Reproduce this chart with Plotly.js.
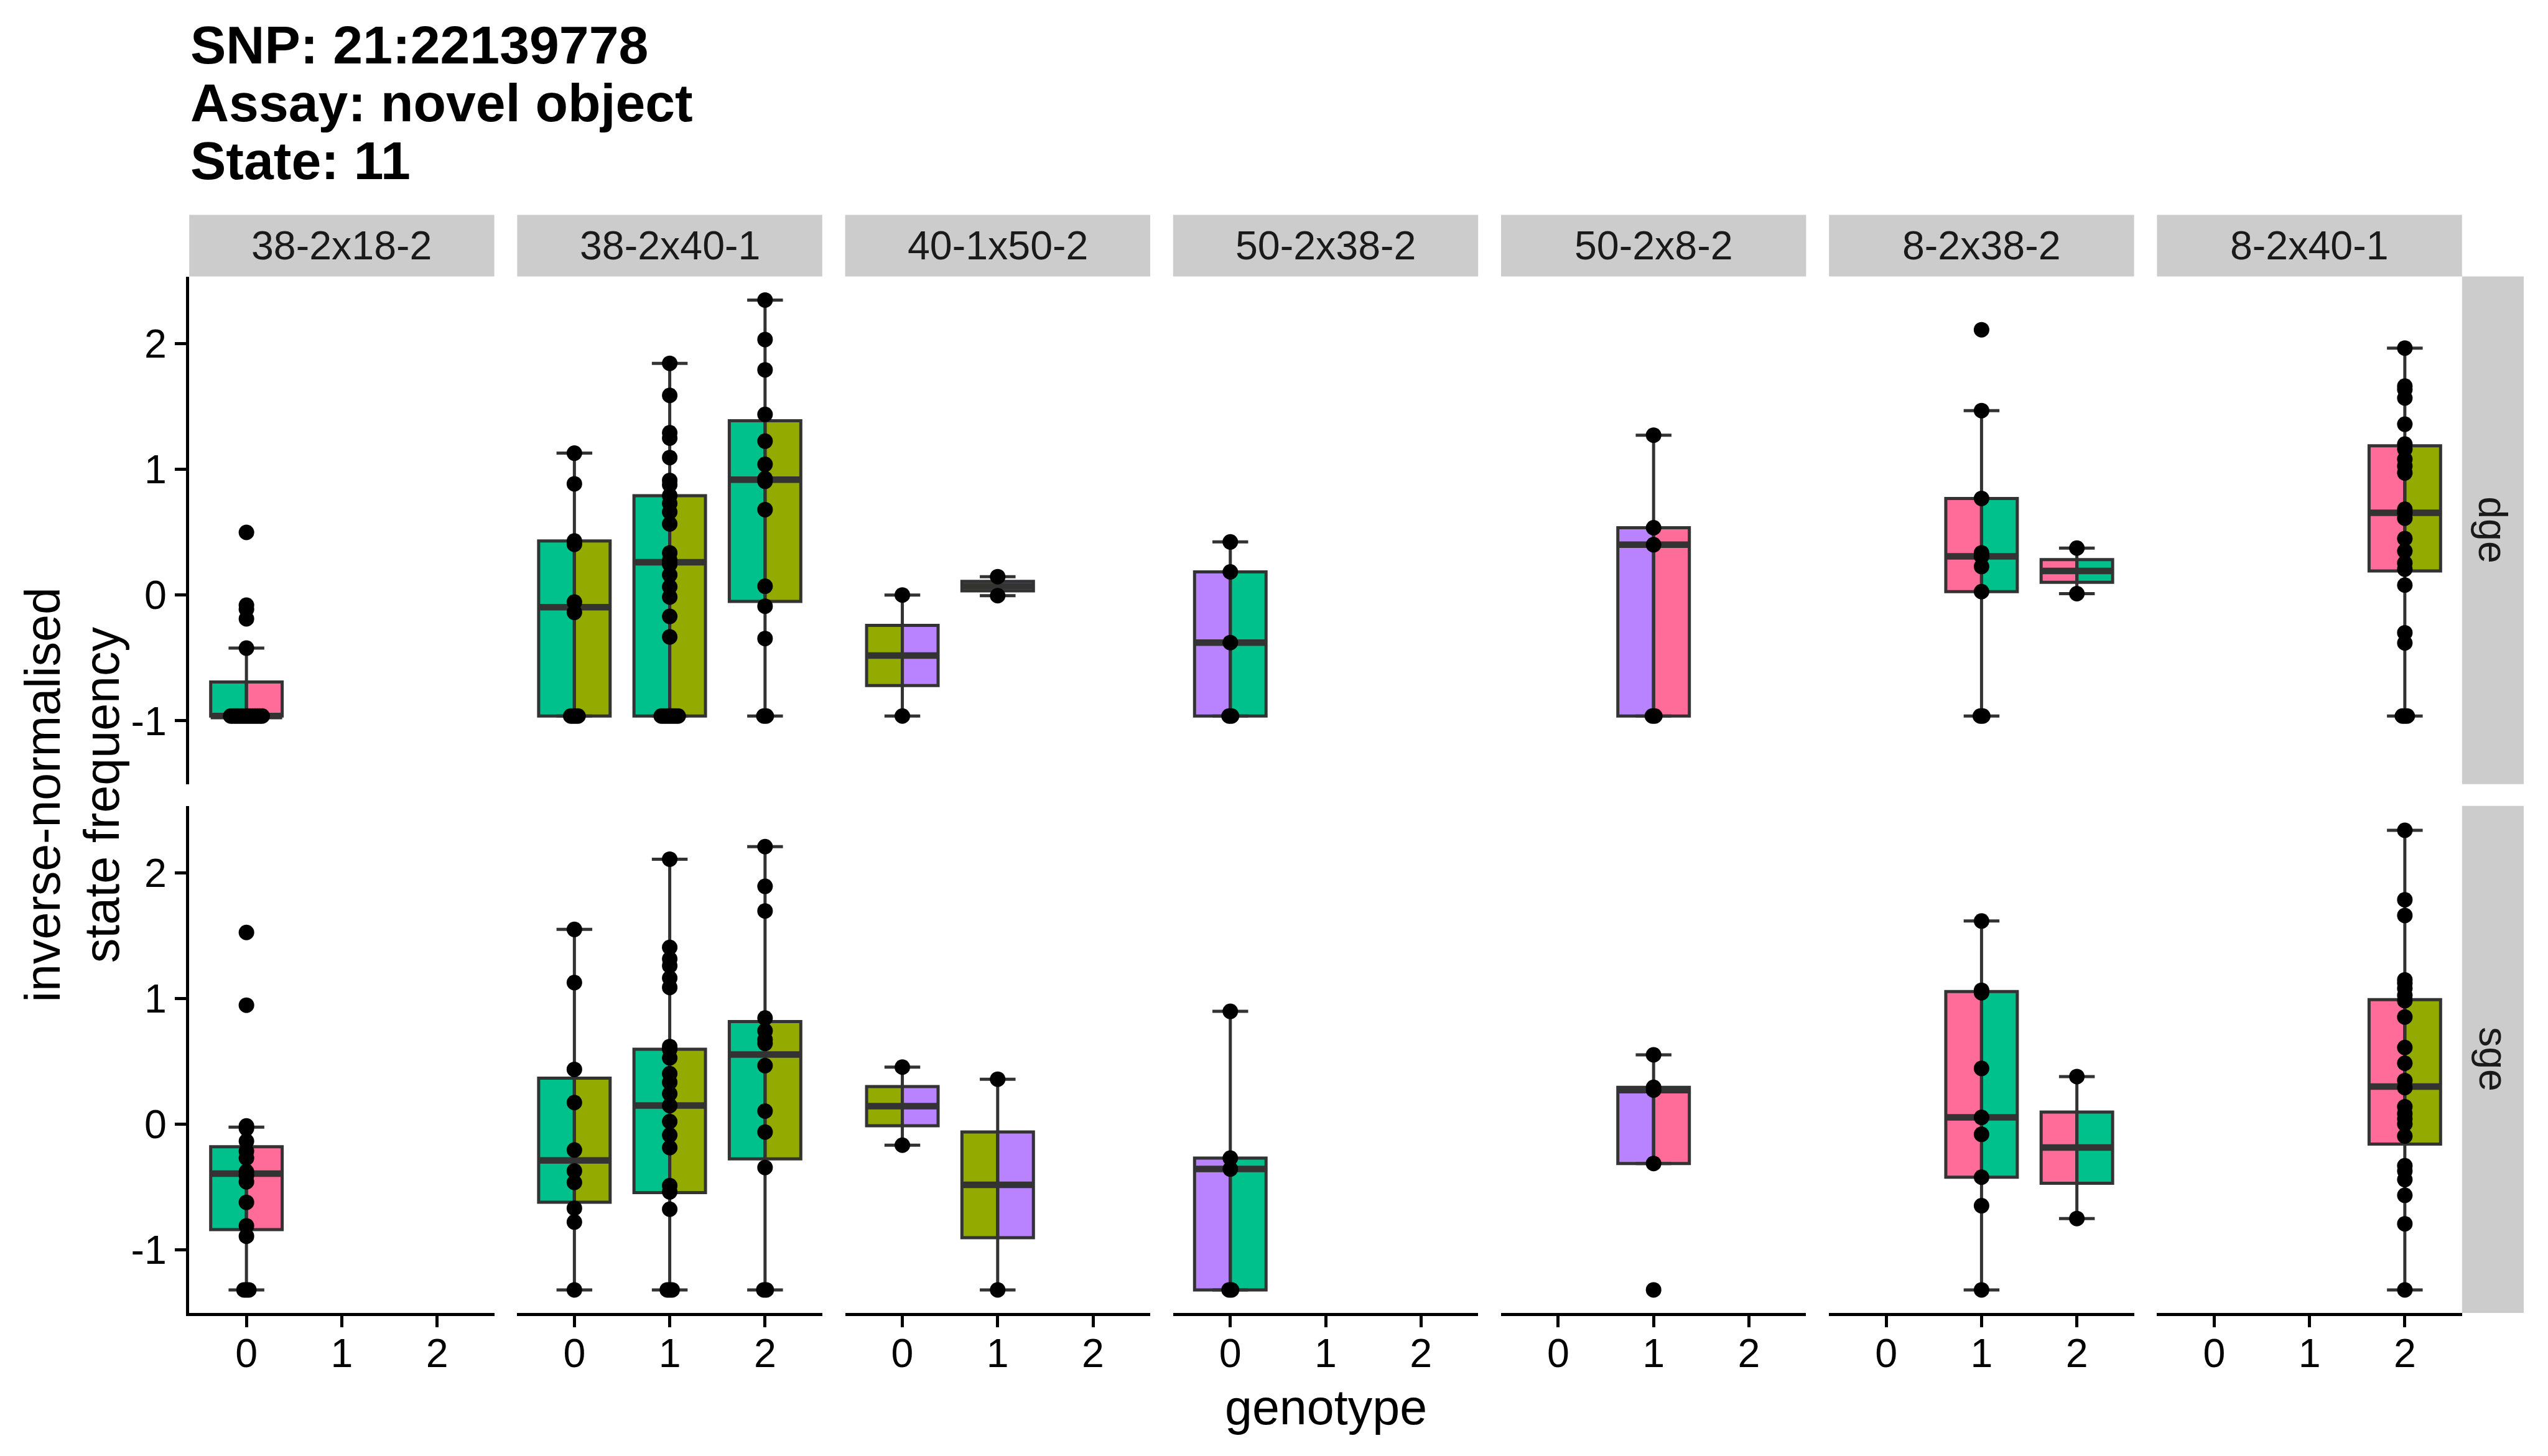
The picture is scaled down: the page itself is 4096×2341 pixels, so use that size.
<!DOCTYPE html>
<html>
<head>
<meta charset="utf-8">
<script src="https://cdn.plot.ly/plotly-3.0.1.min.js"></script>
<style>
html,body{margin:0;padding:0;background:#ffffff;}
#chart{width:4096px;height:2341px;}
</style>
</head>
<body>
<div id="chart"></div>
<script>
// ---------------- DATA ----------------
const titleLines = ['SNP: 21:22139778', 'Assay: novel object', 'State: 11'];
const crosses = ['38-2x18-2', '38-2x40-1', '40-1x50-2', '50-2x38-2', '50-2x8-2', '8-2x38-2', '8-2x40-1'];
const phenotypes = ['dge', 'sge'];
const genotypes = [0, 1, 2];
const genotypeLabels = ['0', '1', '2'];
const yTicks = [-1, 0, 1, 2];
const yTickLabels = ['-1', '0', '1', '2'];
const xTitle = 'genotype';
const yTitleLines = ['inverse-normalised', 'state frequency'];

// dge row: one entry per box
const dgeCross = [0, 1, 1, 1, 2, 2, 3, 4, 5, 5, 6];
const dgeGeno  = [0, 0, 1, 2, 0, 1, 0, 1, 1, 2, 2];
const dgeQ1  = [-0.962, -0.962, -0.962, -0.051, -0.720,  0.033, -0.962, -0.962,  0.027,  0.101,  0.192];
const dgeMed = [-0.962, -0.097,  0.260,  0.917, -0.481,  0.070, -0.378,  0.400,  0.308,  0.192,  0.654];
const dgeQ3  = [-0.691,  0.430,  0.790,  1.385, -0.241,  0.108,  0.184,  0.535,  0.768,  0.282,  1.187];
const dgeLo  = [-0.962, -0.962, -0.962, -0.962, -0.962, -0.005, -0.962, -0.962, -0.962,  0.011, -0.962];
const dgeHi  = [-0.422,  1.128,  1.842,  2.345,  0.000,  0.146,  0.422,  1.271,  1.466,  0.373,  1.963];
const dgePoints = [
  [-0.962, -0.962, -0.962, -0.962, -0.962, -0.962, -0.962, -0.962, -0.962, -0.962, -0.962, -0.962, -0.962, -0.962, -0.422, -0.189, -0.113, -0.081, 0.498],
  [1.128, 0.884, 0.430, 0.403, -0.056, -0.138, -0.962, -0.962, -0.962, -0.962],
  [1.842, 1.587, 1.290, 1.247, 1.093, 0.911, 0.876, 0.790, 0.728, 0.660, 0.565, 0.335, 0.276, 0.245, 0.160, 0.065, -0.016, -0.170, -0.333, -0.962, -0.962, -0.962, -0.962, -0.962, -0.962, -0.962, -0.962],
  [2.345, 2.031, 1.790, 1.436, 1.223, 1.039, 0.925, 0.904, 0.679, 0.070, -0.089, -0.346, -0.962, -0.962],
  [0.000, -0.962],
  [0.146, -0.005],
  [0.422, 0.184, -0.378, -0.962, -0.962],
  [1.271, 0.535, 0.400, -0.962, -0.962],
  [2.109, 1.466, 0.768, 0.335, 0.308, 0.227, 0.027, -0.962, -0.962],
  [0.373, 0.011],
  [1.963, 1.661, 1.634, 1.566, 1.358, 1.200, 1.160, 1.080, 1.025, 0.971, 0.682, 0.654, 0.611, 0.449, 0.349, 0.254, 0.205, 0.079, -0.300, -0.381, -0.962, -0.962, -0.962]
];

// sge row: one entry per box
const sgeCross = [0, 1, 1, 1, 2, 2, 3, 4, 5, 5, 6];
const sgeGeno  = [0, 0, 1, 2, 0, 1, 0, 1, 1, 2, 2];
const sgeQ1  = [-0.840, -0.622, -0.545, -0.277, -0.013, -0.904, -1.320, -0.314, -0.423, -0.471, -0.160];
const sgeMed = [-0.395, -0.290,  0.147,  0.553,  0.143, -0.484, -0.358,  0.270,  0.053, -0.187,  0.299];
const sgeQ3  = [-0.180,  0.365,  0.595,  0.816,  0.298, -0.063, -0.271,  0.292,  1.055,  0.096,  0.990];
const sgeLo  = [-1.320, -1.320, -1.320, -1.320, -0.168, -1.320, -1.320, -0.314, -1.320, -0.752, -1.320];
const sgeHi  = [-0.025,  1.549,  2.108,  2.208,  0.453,  0.357,  0.897,  0.551,  1.616,  0.378,  2.338];
const sgePoints = [
  [1.525, 0.946, -0.015, -0.035, -0.136, -0.217, -0.271, -0.379, -0.410, -0.460, -0.623, -0.810, -0.893, -1.320, -1.320, -1.320],
  [1.549, 1.126, 0.435, 0.171, -0.207, -0.373, -0.465, -0.670, -0.780, -1.320],
  [2.108, 1.406, 1.314, 1.259, 1.162, 1.087, 0.617, 0.595, 0.526, 0.401, 0.332, 0.241, 0.147, 0.020, -0.088, -0.188, -0.490, -0.540, -0.678, -1.320, -1.320, -1.320],
  [2.208, 1.892, 1.696, 0.844, 0.742, 0.672, 0.642, 0.465, 0.103, -0.064, -0.346, -1.320, -1.320],
  [0.453, -0.168],
  [0.357, -1.320],
  [0.897, -0.271, -0.358, -1.320, -1.320],
  [0.551, 0.292, 0.270, -0.314, -1.320],
  [1.616, 1.065, 1.045, 0.443, 0.053, -0.082, -0.423, -0.650, -1.320],
  [0.378, -0.752],
  [2.338, 1.785, 1.660, 1.148, 1.120, 1.079, 1.024, 0.982, 0.852, 0.609, 0.484, 0.346, 0.290, 0.138, 0.083, 0.042, 0.000, -0.096, -0.332, -0.373, -0.442, -0.567, -0.794, -1.320]
];

// ---------------- STYLE ----------------
const FONT = '"Liberation Sans", Arial, Helvetica, sans-serif';
const leftFill  = ['#00C08B', '#00C08B', '#93AA00', '#B983FF', '#B983FF', '#FF6C9A', '#FF6C9A'];
const rightFill = ['#FF6C9A', '#93AA00', '#B983FF', '#00C08B', '#FF6C9A', '#00C08B', '#93AA00'];
const W = 4096, H = 2341;
const PANEL_L0 = 304.2, PANEL_W = 490.4, PANEL_STEP = 527.2;
const ROW_T = [444.6, 1295.8], ROW_B = [1260.7, 2110.9];
const STRIP_T = 345.5;
const RSTRIP_L = 3957.8, RSTRIP_R = 4057;
const YRANGE = [-1.503, 2.532];
const XRANGE = [-0.6, 2.6];
const BOX_W = 0.75;
const PX_PER_UNIT = PANEL_W / (XRANGE[1] - XRANGE[0]);
const EDGE = '#333333';

function fx(px) { return px / W; }
function fy(py) { return 1 - py / H; }
function xName(c) { return c === 0 ? 'x' : 'x' + (c + 1); }

// ---------------- BUILD ----------------
const traces = [];
const rows = [
  {cross: dgeCross, geno: dgeGeno, q1: dgeQ1, med: dgeMed, q3: dgeQ3, lo: dgeLo, hi: dgeHi, pts: dgePoints, y: 'y'},
  {cross: sgeCross, geno: sgeGeno, q1: sgeQ1, med: sgeMed, q3: sgeQ3, lo: sgeLo, hi: sgeHi, pts: sgePoints, y: 'y2'}
];

// boxes (two halves each)
rows.forEach(function (R) {
  R.cross.forEach(function (c, i) {
    const g = R.geno[i];
    [[-1, leftFill[c]], [1, rightFill[c]]].forEach(function (side) {
      traces.push({
        type: 'box', orientation: 'v',
        x: [g + side[0] * BOX_W / 4],
        q1: [R.q1[i]], median: [R.med[i]], q3: [R.q3[i]],
        lowerfence: [R.q1[i]], upperfence: [R.q3[i]],
        width: BOX_W / 2,
        fillcolor: side[1],
        line: {color: EDGE, width: 5},
        whiskerwidth: 0,
        boxpoints: false,
        xaxis: xName(c), yaxis: R.y,
        hoverinfo: 'skip', showlegend: false
      });
    });
  });
});

// whiskers (errorbar style), medians, points per panel
rows.forEach(function (R) {
  crosses.forEach(function (name, c) {
    const idx = R.cross.map(function (cc, i) { return cc === c ? i : -1; }).filter(function (i) { return i >= 0; });
    if (!idx.length) return;
    traces.push({
      type: 'scatter', mode: 'markers',
      x: idx.map(function (i) { return R.geno[i]; }),
      y: idx.map(function (i) { return R.med[i]; }),
      marker: {size: 1, color: EDGE},
      error_y: {
        type: 'data', symmetric: false,
        array: idx.map(function (i) { return R.hi[i] - R.med[i]; }),
        arrayminus: idx.map(function (i) { return R.med[i] - R.lo[i]; }),
        color: EDGE, thickness: 5, width: BOX_W / 4 * PX_PER_UNIT
      },
      xaxis: xName(c), yaxis: R.y, hoverinfo: 'skip', showlegend: false
    });
    const mx = [], my = [];
    idx.forEach(function (i) {
      mx.push(R.geno[i] - BOX_W / 2, R.geno[i] + BOX_W / 2, null);
      my.push(R.med[i], R.med[i], null);
    });
    traces.push({
      type: 'scatter', mode: 'lines', x: mx, y: my,
      line: {color: EDGE, width: 10.5},
      xaxis: xName(c), yaxis: R.y, hoverinfo: 'skip', showlegend: false
    });
    const px = [], py = [];
    idx.forEach(function (i) {
      const vals = R.pts[i];
      const seen = {};
      vals.forEach(function (v) {
        const m = vals.filter(function (w) { return w === v; }).length;
        const k = seen[v] || 0;
        seen[v] = k + 1;
        px.push(R.geno[i] + 0.0127 * (2 * k - (m - 1)));
        py.push(v);
      });
    });
    traces.push({
      type: 'scatter', mode: 'markers', x: px, y: py,
      marker: {size: 25, color: '#000000', line: {width: 0}},
      xaxis: xName(c), yaxis: R.y, hoverinfo: 'skip', showlegend: false
    });
  });
});

// ---------------- LAYOUT ----------------
const layout = {
  width: W, height: H,
  margin: {l: 0, r: 0, t: 0, b: 0, pad: 0},
  paper_bgcolor: '#ffffff', plot_bgcolor: 'rgba(0,0,0,0)',
  showlegend: false,
  font: {family: FONT, color: '#000000'},
  boxmode: 'overlay',
  shapes: [], annotations: []
};

crosses.forEach(function (name, c) {
  const L = PANEL_L0 + c * PANEL_STEP;
  layout[c === 0 ? 'xaxis' : 'xaxis' + (c + 1)] = {
    domain: [fx(L), fx(L + PANEL_W)], anchor: 'y2',
    range: XRANGE, tickmode: 'array', tickvals: genotypes, ticktext: genotypeLabels,
    showline: true, linecolor: '#000000', linewidth: 5,
    ticks: 'outside', ticklen: 18.5, tickwidth: 5, tickcolor: '#000000',
    ticklabelstandoff: -14,
    tickfont: {size: 64.5, color: '#000000', family: FONT},
    showgrid: false, zeroline: false, fixedrange: true
  };
  layout.shapes.push({type: 'rect', xref: 'paper', yref: 'paper', x0: fx(L), x1: fx(L + PANEL_W), y0: fy(ROW_T[0]), y1: fy(STRIP_T),
    fillcolor: '#CCCCCC', line: {width: 0}, layer: 'below'});
  layout.annotations.push({xref: 'paper', yref: 'paper', x: fx(L + PANEL_W / 2), y: fy((STRIP_T + ROW_T[0]) / 2),
    xanchor: 'center', yanchor: 'middle', text: name, showarrow: false,
    font: {size: 64.5, color: '#1A1A1A', family: FONT}});
});

phenotypes.forEach(function (ph, r) {
  layout[r === 0 ? 'yaxis' : 'yaxis2'] = {
    domain: [fy(ROW_B[r]), fy(ROW_T[r])], anchor: 'x',
    range: YRANGE, tickmode: 'array', tickvals: yTicks, ticktext: yTickLabels,
    showline: true, linecolor: '#000000', linewidth: 5,
    ticks: 'outside', ticklen: 18.5, tickwidth: 5, tickcolor: '#000000',
    tickfont: {size: 64.5, color: '#000000', family: FONT},
    showgrid: false, zeroline: false, fixedrange: true
  };
  layout.shapes.push({type: 'rect', xref: 'paper', yref: 'paper', x0: fx(RSTRIP_L), x1: fx(RSTRIP_R), y0: fy(ROW_B[r]), y1: fy(ROW_T[r]),
    fillcolor: '#CCCCCC', line: {width: 0}, layer: 'below'});
  layout.annotations.push({xref: 'paper', yref: 'paper', x: fx((RSTRIP_L + RSTRIP_R) / 2), y: fy((ROW_T[r] + ROW_B[r]) / 2),
    xanchor: 'center', yanchor: 'middle', text: ph, textangle: 90, showarrow: false,
    font: {size: 64.5, color: '#1A1A1A', family: FONT}});
});

const titleCenters = [72.3, 164.9, 257.5];
titleLines.forEach(function (t, i) {
  layout.annotations.push({xref: 'paper', yref: 'paper', x: fx(PANEL_L0), y: fy(titleCenters[i]),
    xanchor: 'left', yanchor: 'middle', text: '<b>' + t + '</b>', showarrow: false,
    font: {size: 86, color: '#000000', family: FONT}});
});

layout.annotations.push({xref: 'paper', yref: 'paper', x: fx((PANEL_L0 + RSTRIP_L) / 2), y: fy(2262),
  xanchor: 'center', yanchor: 'middle', text: xTitle, showarrow: false,
  font: {size: 79, color: '#000000', family: FONT}});
const yTitleX = [68.8, 163.4];
yTitleLines.forEach(function (t, i) {
  layout.annotations.push({xref: 'paper', yref: 'paper', x: fx(yTitleX[i]), y: fy((ROW_T[0] + ROW_B[1]) / 2),
    xanchor: 'center', yanchor: 'middle', text: t, textangle: -90, showarrow: false,
    font: {size: 79, color: '#000000', family: FONT}});
});

Plotly.newPlot('chart', traces, layout, {staticPlot: true, displayModeBar: false});
</script>
</body>
</html>
